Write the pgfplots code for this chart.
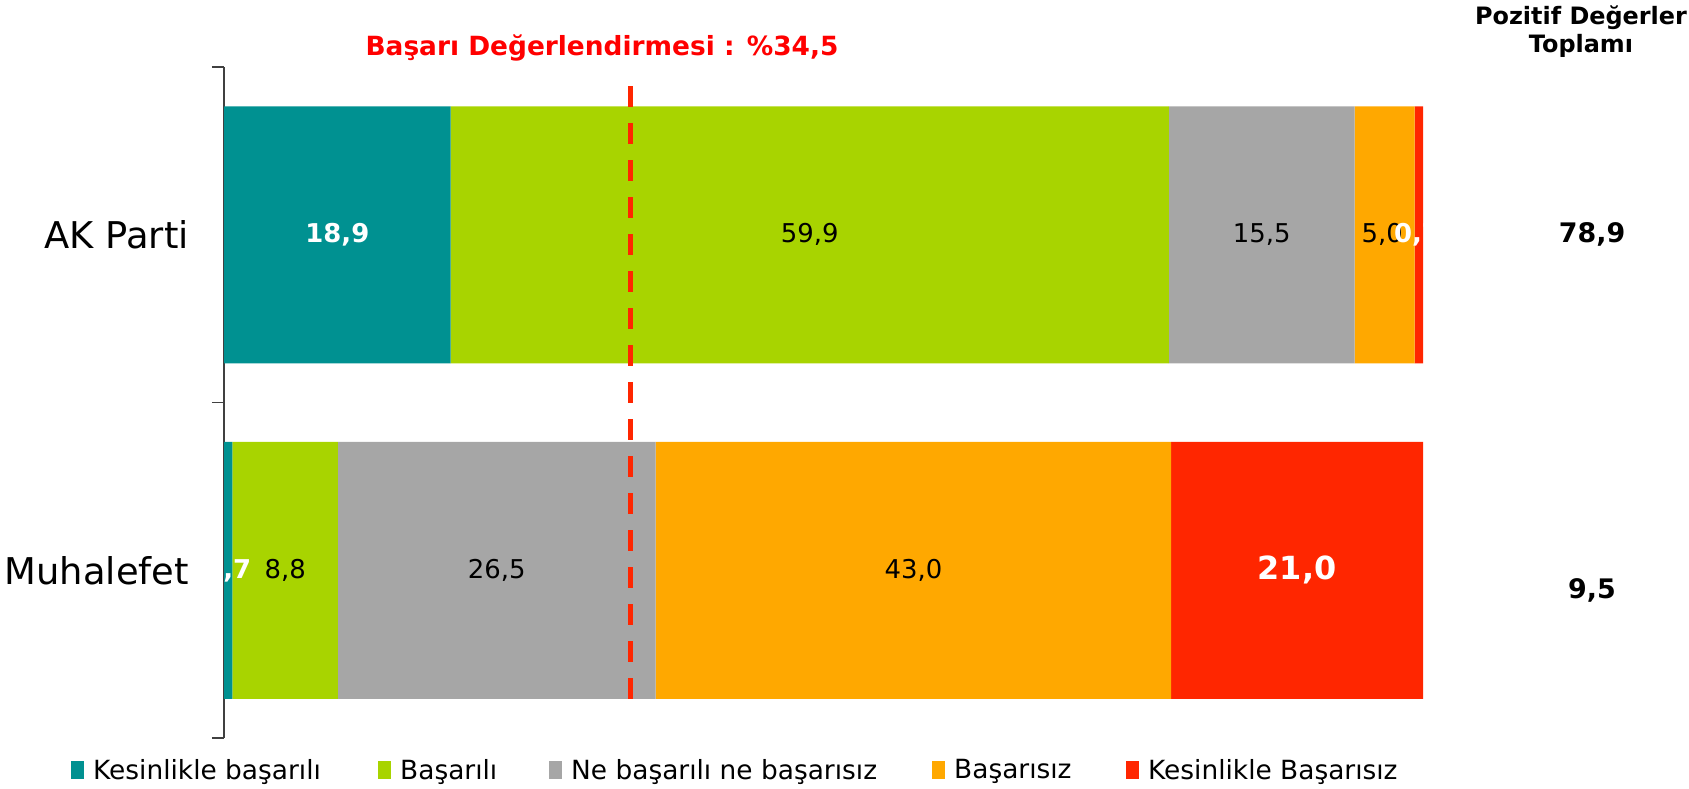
\documentclass[border=0pt]{standalone}
\usepackage{fontspec}
\setmainfont{DejaVu Sans}
\usepackage{pgfplots}
\pgfplotsset{compat=1.18}
\usepackage{pgfplotstable}
\definecolor{cteal}{HTML}{009191}
\definecolor{cgreen}{HTML}{A8D400}
\definecolor{cgray}{HTML}{A6A6A6}
\definecolor{corange}{HTML}{FFA800}
\definecolor{cred}{HTML}{FF2600}

\pgfplotstableread{
x y lab
48.85 0 59,9
86.55 0 15,5
96.6 0 5,0
5.1 1 8,8
22.75 1 26,5
57.5 1 43,0
}\blacklabels
\pgfplotstableread{
x y lab
9.45 0 18,9
99.5 0 0,7
0.35 1 0,7
}\whitelabels
\pgfplotstableread{
x y lab
89.5 1 21,0
}\biglabels
\pgfplotstableread{
x y lab
114.1 0 78,9
114.1 1.06 9,5
}\sumlabels

\begin{document}
\begin{tikzpicture}
\useasboundingbox (0,0) rectangle (1689bp,-789bp);
\begin{axis}[
  at={(224bp,-67bp)}, anchor=north west,
  width=1199bp, height=671bp, scale only axis,
  xbar stacked, bar width=257bp,
  xmin=0, xmax=100, ymin=-0.5, ymax=1.5, y dir=reverse,
  hide x axis, axis y line*=left,
  y axis line style={black!75, line width=1.2bp, -},
  ytick={0,1}, yticklabels={AK Parti, Muhalefet},
  major tick length=0pt,
  yticklabel style={font=\fontsize{37}{37}\selectfont, inner sep=0pt, xshift=-35bp},
  extra y ticks={-0.5,0.5,1.5}, extra y tick labels={},
  extra y tick style={major tick length=12bp, tick align=outside, tick style={black!75, line width=1.2bp}},
  legend columns=5,
  legend cell align=left,
  legend image code/.code={\fill[#1] (0bp,-9bp) rectangle (13bp,9bp);},
  legend style={at={(-0.1276,-0.0477)}, anchor=west, draw=none, fill=none,
    inner sep=0pt, column sep=0pt, nodes={inner sep=0pt},
    font=\fontsize{26.5}{26.5}\selectfont},
]
\addplot[fill=cteal, draw=none] coordinates {(18.9,0) (0.7,1)};
\addplot[fill=cgreen, draw=none] coordinates {(59.9,0) (8.8,1)};
\addplot[fill=cgray, draw=none] coordinates {(15.5,0) (26.5,1)};
\addplot[fill=corange, draw=none] coordinates {(5.0,0) (43.0,1)};
\addplot[fill=cred, draw=none] coordinates {(0.7,0) (21.0,1)};
\legend{{\makebox[294bp][l]{\hspace{9bp}Kesinlikle başarılı}},
        {\makebox[158bp][l]{\hspace{9bp}Başarılı}},
        {\makebox[370bp][l]{\hspace{9bp}Ne başarılı ne başarısız}},
        {\makebox[181bp][l]{\hspace{9bp}Başarısız}},
        {\hspace{9bp}Kesinlikle Başarısız}}
\end{axis}
\begin{axis}[
  at={(224bp,-67bp)}, anchor=north west,
  width=1199bp, height=671bp, scale only axis,
  xmin=0, xmax=100, ymin=-0.5, ymax=1.5, y dir=reverse,
  hide axis, clip=false,
]
\addplot[cred, line width=5bp, dash pattern=on 21bp off 16bp] coordinates {(33.9,-0.443) (33.9,1.387)};
\addplot[only marks, mark=none, nodes near coords, point meta=explicit symbolic,
  every node near coord/.append style={anchor=center, text=black, font=\fontsize{26}{26}\selectfont}]
  table[x=x, y=y, meta=lab] {\blacklabels};
\addplot[only marks, mark=none, nodes near coords, point meta=explicit symbolic,
  every node near coord/.append style={anchor=center, text=white, font=\bfseries\fontsize{26}{26}\selectfont}]
  table[x=x, y=y, meta=lab] {\whitelabels};
\addplot[only marks, mark=none, nodes near coords, point meta=explicit symbolic,
  every node near coord/.append style={anchor=center, text=white, font=\bfseries\fontsize{32}{32}\selectfont}]
  table[x=x, y=y, meta=lab] {\biglabels};
\addplot[only marks, mark=none, nodes near coords, point meta=explicit symbolic,
  every node near coord/.append style={anchor=center, text=black, font=\bfseries\fontsize{27}{27}\selectfont}]
  table[x=x, y=y, meta=lab] {\sumlabels};
\end{axis}
\node[text=red, font=\bfseries\fontsize{26.5}{26.5}\selectfont] at (602bp,-48bp) {Başarı Değerlendirmesi : \%34,5};
\node[align=center, font=\bfseries\fontsize{24}{28}\selectfont] at (1581bp,-32bp) {Pozitif Değerler\\Toplamı};
\end{tikzpicture}
\end{document}
